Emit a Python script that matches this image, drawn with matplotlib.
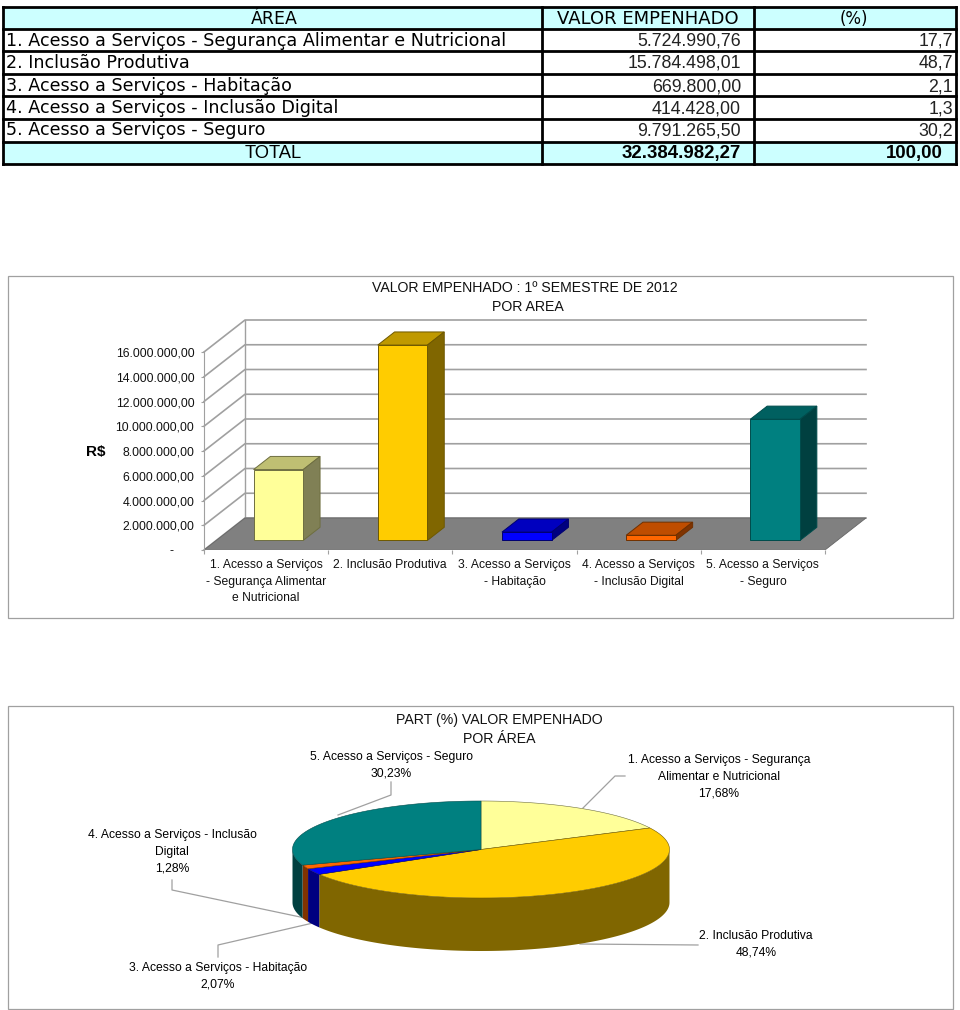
import matplotlib
matplotlib.use("Agg")
import matplotlib.pyplot as plt
import numpy as np
from matplotlib.patches import Polygon, Rectangle

plt.rcParams["font.family"] = ["Liberation Sans", "DejaVu Sans"]

W, H = 960, 1010

# table
TABLE_HEADER = ["ÁREA", "VALOR EMPENHADO", "(%)"]
TABLE_AREAS = [
    "1. Acesso a Serviços - Segurança Alimentar e Nutricional",
    "2. Inclusão Produtiva",
    "3. Acesso a Serviços - Habitação",
    "4. Acesso a Serviços - Inclusão Digital",
    "5. Acesso a Serviços - Seguro",
]
TABLE_VALUES = ["5.724.990,76", "15.784.498,01", "669.800,00", "414.428,00", "9.791.265,50"]
TABLE_PCT = ["17,7", "48,7", "2,1", "1,3", "30,2"]
TABLE_TOTAL = ["TOTAL", "32.384.982,27", "100,00"]

# bar chart
BAR_LABELS = [
    "1. Acesso a Serviços\n- Segurança Alimentar\ne Nutricional",
    "2. Inclusão Produtiva",
    "3. Acesso a Serviços\n- Habitação",
    "4. Acesso a Serviços\n- Inclusão Digital",
    "5. Acesso a Serviços\n- Seguro",
]
BAR_VALUES = [5724990.76, 15784498.01, 669800.00, 414428.00, 9791265.50]
BAR_TICKS = [0, 2e6, 4e6, 6e6, 8e6, 10e6, 12e6, 14e6, 16e6]
BAR_TICK_LABELS = ["-      ", "2.000.000,00", "4.000.000,00", "6.000.000,00", "8.000.000,00",
                   "10.000.000,00", "12.000.000,00", "14.000.000,00", "16.000.000,00"]

# pie chart
PIE_PCT = [17.68, 48.74, 2.07, 1.28, 30.23]

FACE = ["#FFFF99", "#FFCC00", "#0000FF", "#FF6600", "#008080"]
TOP = ["#BFBF73", "#BF9900", "#0000BF", "#BF4D00", "#006060"]
SIDE = ["#808055", "#806600", "#000080", "#803300", "#004040"]
EDGE = ["#6E6E40", "#6E5800", "#000070", "#703000", "#004C4C"]

CYAN = "#CCFFFF"
GRID = "#A0A0A0"
FRAME = "#A0A0A0"

fig = plt.figure(figsize=(W / 100, H / 100), dpi=100, facecolor="white")

# whole page in pixels, for table, frames and pie
page = fig.add_axes([0, 0, 1, 1])
page.set_xlim(0, W)
page.set_ylim(H, 0)
page.axis("off")

page.add_patch(Rectangle((8, 276), 945, 342, fc="white", ec=FRAME, lw=0.9))
page.add_patch(Rectangle((8, 706), 945, 303, fc="white", ec=FRAME, lw=0.9))

# ---- table ----
col_x = [3, 542, 754, 956]
row_y = [7, 29, 51, 74, 96, 119, 142, 164]
page.add_patch(Rectangle((3, row_y[0]), 953, row_y[1] - row_y[0], fc=CYAN, ec="none"))
page.add_patch(Rectangle((3, row_y[6]), 953, row_y[7] - row_y[6], fc=CYAN, ec="none"))
for y in row_y:
    page.plot([col_x[0], col_x[-1]], [y, y], color="black", lw=2, solid_capstyle="projecting")
for x in col_x:
    page.plot([x, x], [row_y[0], row_y[-1]], color="black", lw=2, solid_capstyle="projecting")

WIDE = ["DejaVu Sans"]
base_y = [46, 68, 91, 113, 135]
page.text(274, 24, TABLE_HEADER[0], ha="center", va="baseline", fontsize=12.5, family=WIDE, zorder=5)
page.text(648, 24, TABLE_HEADER[1], ha="center", va="baseline", fontsize=13, family=WIDE)
page.text(854, 24, TABLE_HEADER[2], ha="center", va="baseline", fontsize=12, family=WIDE)
for area, val, pct, y in zip(TABLE_AREAS, TABLE_VALUES, TABLE_PCT, base_y):
    page.text(6, y, area, ha="left", va="baseline", fontsize=12.6, family=WIDE)
    page.text(741, y, val, ha="right", va="baseline", fontsize=12.8, color="#222222")
    page.text(953, y, pct, ha="right", va="baseline", fontsize=12.8, color="#222222")
page.text(273, 158, TABLE_TOTAL[0], ha="center", va="baseline", fontsize=13.2)
page.text(741, 158, TABLE_TOTAL[1], ha="right", va="baseline", fontsize=13.4, fontweight="bold")
page.text(943, 158, TABLE_TOTAL[2], ha="right", va="baseline", fontsize=13.4, fontweight="bold")

# ---- bar chart ----
page.text(525, 288, "VALOR EMPENHADO : 1º SEMESTRE DE 2012", ha="center", va="center", fontsize=10.2, color="#111111")
page.text(528, 307, "POR AREA", ha="center", va="center", fontsize=10.2, color="#111111")
page.text(96, 452, "R$", ha="center", va="center", fontsize=11, fontweight="bold")

cat_px = 124.2
val_px = 12.375e-6
x0_px, x1_px = 204, 868
y0_px, y1_px = 550, 320
bar_ax = fig.add_axes([x0_px / W, 1 - y0_px / H, (x1_px - x0_px) / W, (y0_px - y1_px) / H])
bar_ax.patch.set_alpha(0)
bar_ax.set_xlim(0, (x1_px - x0_px) / cat_px)
bar_ax.set_ylim(0, (y0_px - y1_px) / val_px)

depth_x = 41 / cat_px
depth_y = 32 / val_px


def proj(x, v, d):
    return x + d * depth_x, v + d * depth_y


n = len(BAR_VALUES)
for t in BAR_TICKS:
    bar_ax.plot(*zip(proj(0, t, 0), proj(0, t, 1), proj(n, t, 1)), color=GRID, lw=1.2, zorder=1, clip_on=False)
bar_ax.add_patch(Polygon([proj(0, 0, 0), proj(n, 0, 0), proj(n, 0, 1), proj(0, 0, 1)],
                         fc="#808080", ec="#666666", lw=0.6, zorder=2))
bar_ax.plot(*zip(proj(0, 0, 1), proj(0, BAR_TICKS[-1], 1)), color=GRID, lw=1, zorder=1)

bw = 0.4
d0, d1 = 0.3, 0.71
for i, v in enumerate(BAR_VALUES):
    l, r = i + 0.5 - bw / 2, i + 0.5 + bw / 2
    bar_ax.add_patch(Polygon([proj(l, v, d0), proj(r, v, d0), proj(r, v, d1), proj(l, v, d1)],
                             fc=TOP[i], ec=EDGE[i], lw=0.7, zorder=3))
    bar_ax.add_patch(Polygon([proj(r, 0, d0), proj(r, 0, d1), proj(r, v, d1), proj(r, v, d0)],
                             fc=SIDE[i], ec=EDGE[i], lw=0.7, zorder=3))
    bar_ax.add_patch(Polygon([proj(l, 0, d0), proj(r, 0, d0), proj(r, v, d0), proj(l, v, d0)],
                             fc=FACE[i], ec=EDGE[i], lw=0.7, zorder=4))

for side in ["top", "right", "bottom"]:
    bar_ax.spines[side].set_visible(False)
bar_ax.spines["left"].set_bounds(0, BAR_TICKS[-1])
bar_ax.spines["left"].set_color(GRID)
bar_ax.set_yticks(BAR_TICKS)
bar_ax.set_yticklabels(BAR_TICK_LABELS, fontsize=8.8, color="#111111")
bar_ax.tick_params(axis="y", length=2, color=GRID, pad=5)
bar_ax.set_xticks(range(n + 1))
bar_ax.set_xticklabels([""] * (n + 1))
bar_ax.tick_params(axis="x", length=3, color=GRID)
bar_ax.plot([0, n], [0, 0], color=GRID, lw=1, zorder=2)
for i, label in enumerate(BAR_LABELS):
    bar_ax.annotate(label, (i + 0.5, 0), xytext=(0, -6.5), textcoords="offset points",
                    ha="center", va="top", fontsize=8.75, linespacing=1.5, color="#111111")

# ---- pie ----
cx, cy, a, b, pie_depth = 481, 849.5, 188.5, 48.5, 53
edges = np.cumsum([0] + PIE_PCT) / sum(PIE_PCT) * 2 * np.pi


def rim(t0, t1, dy=0):
    t = np.linspace(t0, t1, max(int((t1 - t0) * 60), 2))
    return np.column_stack([cx + a * np.sin(t), cy - b * np.cos(t) + dy])


# side wall, only the part facing us
for i in range(len(PIE_PCT)):
    t0, t1 = max(edges[i], np.pi / 2), min(edges[i + 1], 3 * np.pi / 2)
    if t1 <= t0:
        continue
    page.add_patch(Polygon(np.vstack([rim(t0, t1), rim(t0, t1, pie_depth)[::-1]]),
                           fc=SIDE[i], ec="none", zorder=3))
for i in range(len(PIE_PCT)):
    pts = np.vstack([[[cx, cy]], rim(edges[i], edges[i + 1])])
    page.add_patch(Polygon(pts, fc=FACE[i], ec=EDGE[i], lw=0.4, zorder=4))

page.text(499, 720, "PART (%) VALOR EMPENHADO", ha="center", va="center", fontsize=10.2, color="#111111")
page.text(499, 739, "POR ÁREA", ha="center", va="center", fontsize=10.2, color="#111111")

PFS = 8.7
PLS = 1.52
page.text(391, 765, "5. Acesso a Serviços - Seguro\n30,23%", ha="center", va="center", fontsize=PFS, linespacing=PLS)
page.text(719, 777, "1. Acesso a Serviços - Segurança\nAlimentar e Nutricional\n17,68%", ha="center", va="center",
          fontsize=PFS, linespacing=PLS)
page.text(172, 852, "4. Acesso a Serviços - Inclusão\nDigital\n1,28%", ha="center", va="center", fontsize=PFS,
          linespacing=PLS)
page.text(218, 976, "3. Acesso a Serviços - Habitação\n2,07%", ha="center", va="center", fontsize=PFS, linespacing=PLS)
page.text(756, 944, "2. Inclusão Produtiva\n48,74%", ha="center", va="center", fontsize=PFS, linespacing=PLS)

LEADER = "#A0A0A0"
page.plot([391, 391, 338], [782, 795, 815], color=LEADER, lw=0.9, zorder=2)
page.plot([625, 615, 583], [776, 776, 808], color=LEADER, lw=0.9, zorder=2)
page.plot([172, 172, 305], [880, 890, 918], color=LEADER, lw=0.9, zorder=2)
page.plot([218, 218, 313], [957, 945, 923], color=LEADER, lw=0.9, zorder=2)
page.plot([580, 698], [944, 945], color=LEADER, lw=0.9, zorder=2)

fig.savefig("out.png", dpi=100, facecolor="white")
plt.close(fig)
